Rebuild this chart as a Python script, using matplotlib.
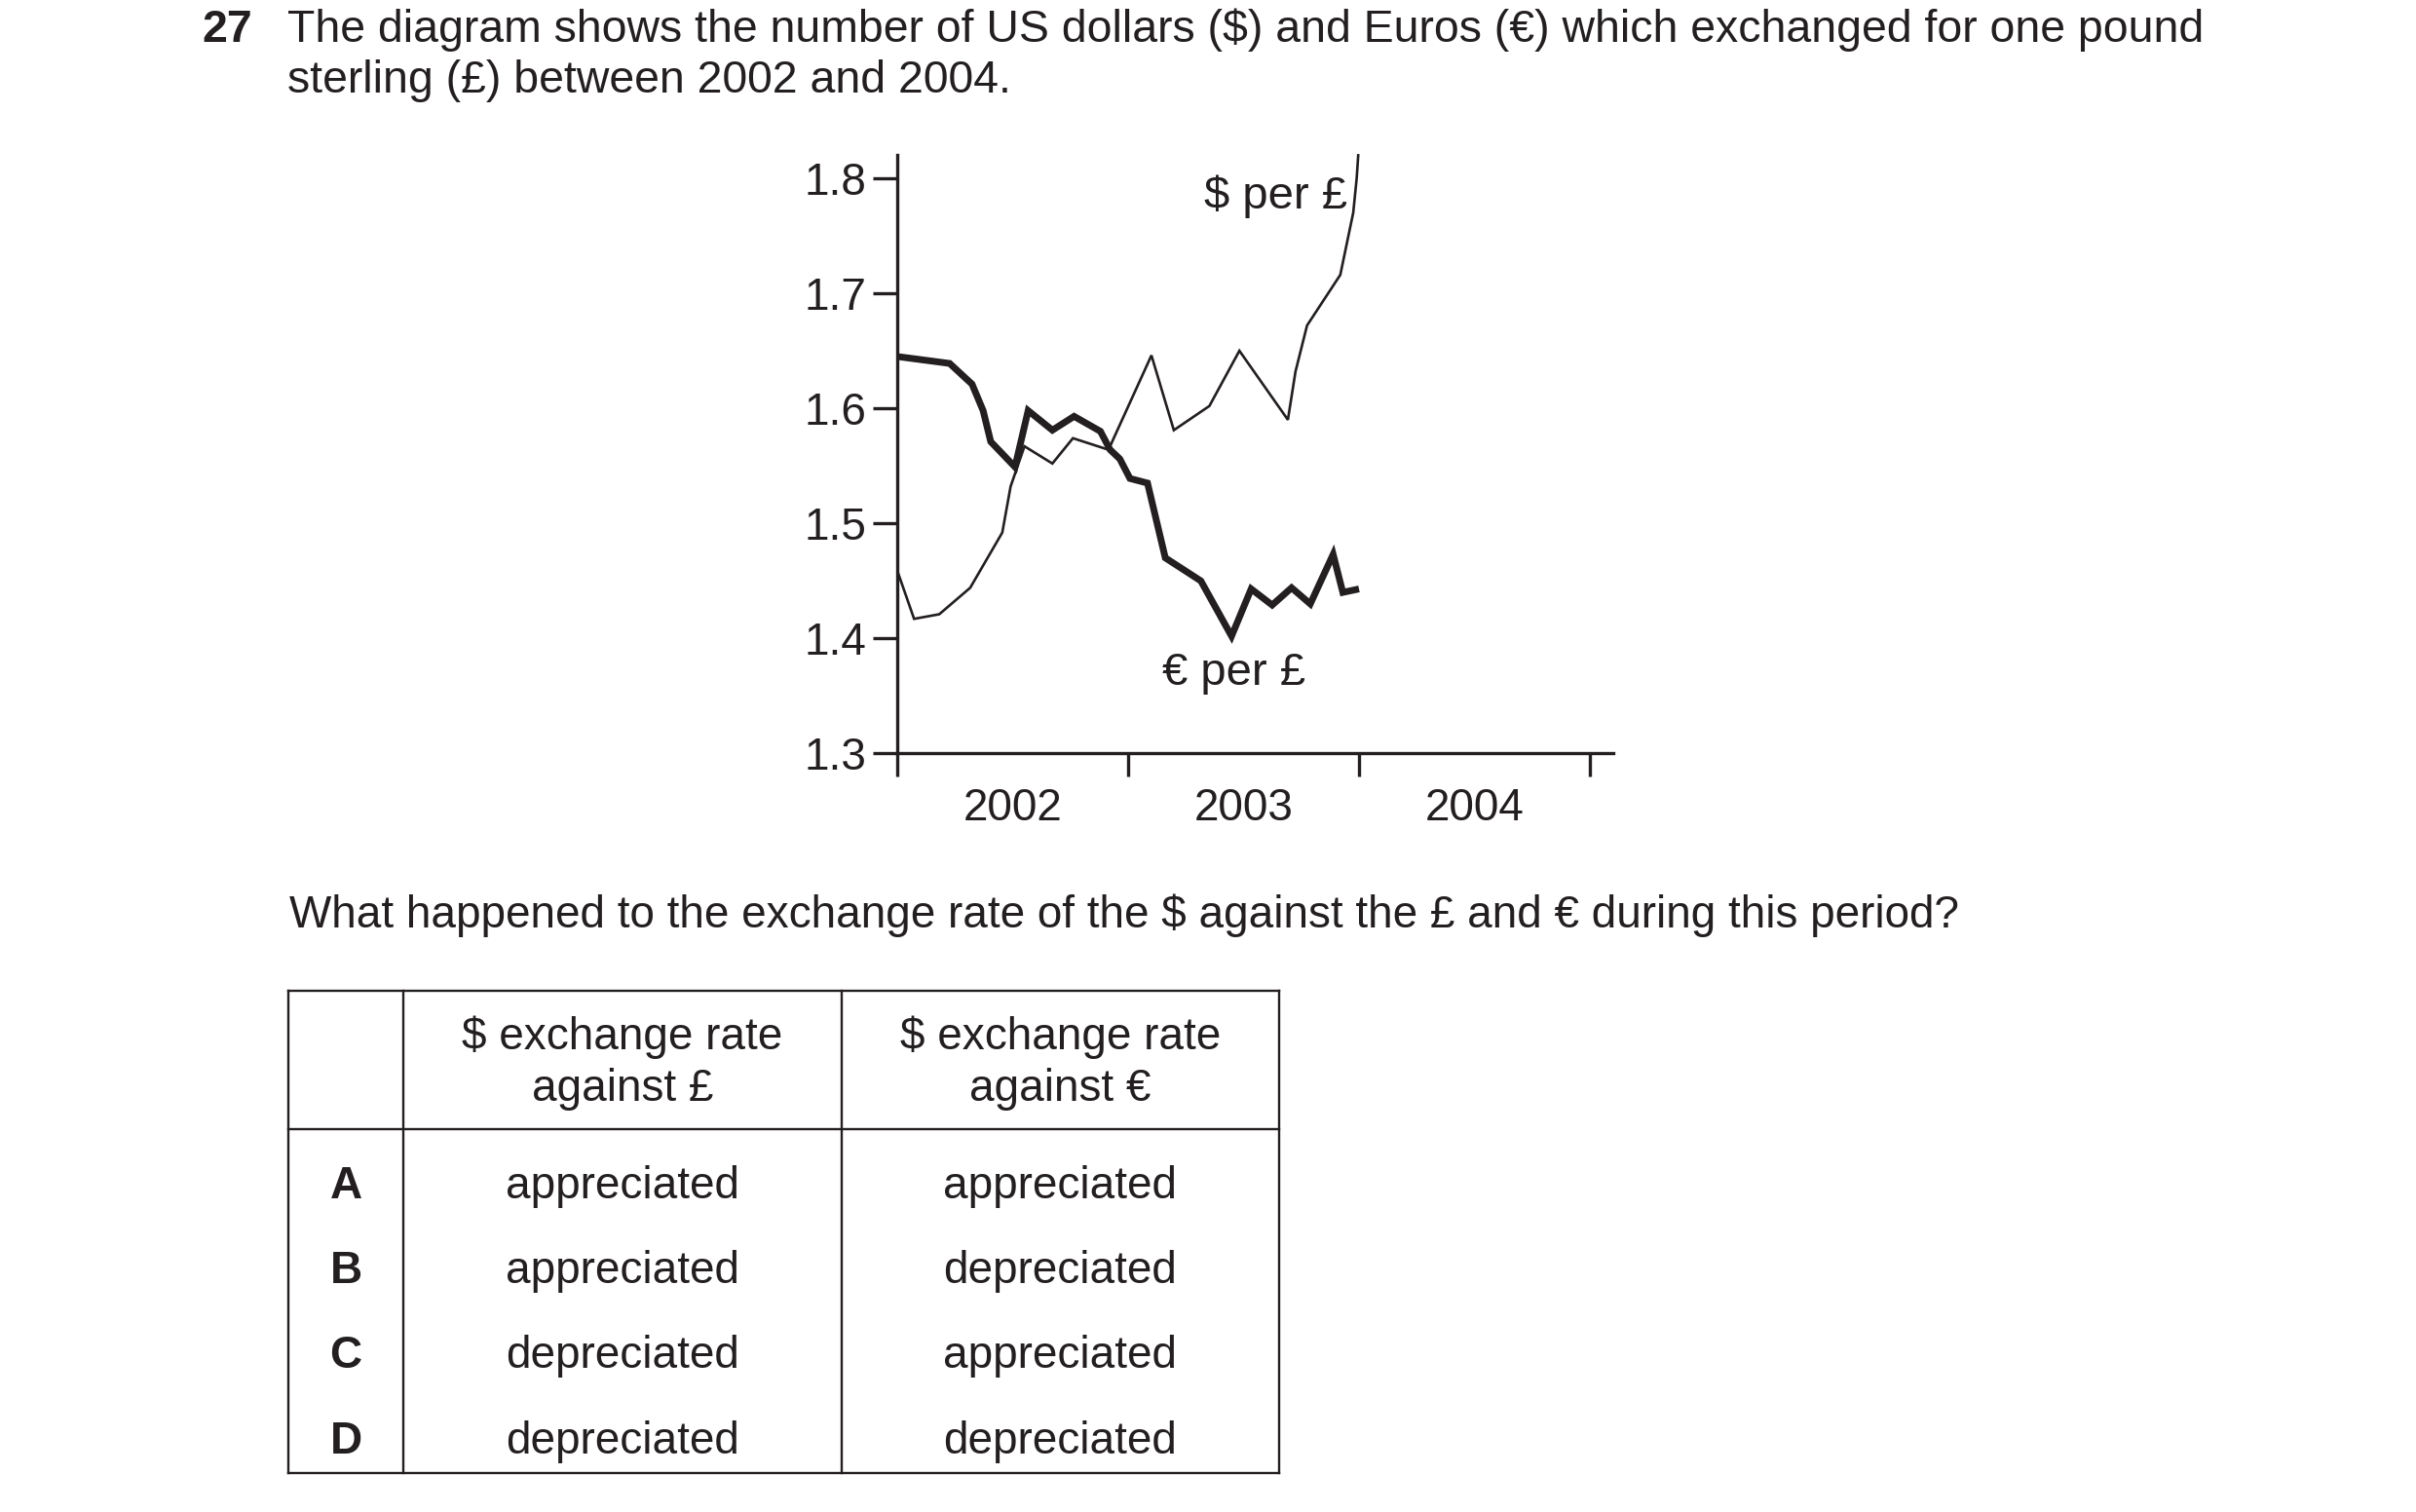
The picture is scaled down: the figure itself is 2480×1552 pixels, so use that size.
import matplotlib
matplotlib.use("Agg")
import matplotlib.pyplot as plt
from matplotlib.lines import Line2D

plt.rcParams['font.family'] = ['Liberation Sans', 'DejaVu Sans']
INK = '#231f20'

# ---- data ----
usd_t = [2002.0, 2002.073, 2002.182, 2002.316, 2002.455, 2002.491, 2002.551, 2002.672,
         2002.761, 2002.915, 2003.101, 2003.198, 2003.352, 2003.482, 2003.692, 2003.725,
         2003.775, 2003.919, 2003.975, 2003.990, 2003.997]
usd_v = [1.459, 1.417, 1.421, 1.444, 1.492, 1.532, 1.567, 1.552,
         1.574, 1.564, 1.646, 1.581, 1.602, 1.650, 1.590, 1.632,
         1.672, 1.716, 1.770, 1.800, 1.821]

eur_t = [2002.0, 2002.227, 2002.324, 2002.372, 2002.405, 2002.510, 2002.567, 2002.672,
         2002.766, 2002.880, 2002.922, 2002.964, 2003.008, 2003.084, 2003.161, 2003.315,
         2003.448, 2003.533, 2003.624, 2003.708, 2003.789, 2003.888, 2003.930, 2004.0]
eur_v = [1.645, 1.639, 1.621, 1.598, 1.571, 1.549, 1.598, 1.581,
         1.593, 1.580, 1.564, 1.556, 1.539, 1.535, 1.470, 1.450,
         1.402, 1.443, 1.429, 1.444, 1.430, 1.473, 1.440, 1.443]

y_ticks = [1.3, 1.4, 1.5, 1.6, 1.7, 1.8]
year_ticks = [2002, 2003, 2004, 2005]
year_labels = ['2002', '2003', '2004']

q_number = '27'
q_lines = ['The diagram shows the number of US dollars ($) and Euros (€) which exchanged for one pound',
           'sterling (£) between 2002 and 2004.']
question = 'What happened to the exchange rate of the $ against the £ and € during this period?'
col_headers = [['$ exchange rate', 'against £'], ['$ exchange rate', 'against €']]
row_letters = ['A', 'B', 'C', 'D']
col1_answers = ['appreciated', 'appreciated', 'depreciated', 'depreciated']
col2_answers = ['appreciated', 'depreciated', 'appreciated', 'depreciated']

# ---- figure ----
W, H = 2480, 1552
fig = plt.figure(figsize=(W / 100, H / 100), dpi=100)
fig.patch.set_facecolor('white')

ov = fig.add_axes([0, 0, 1, 1], zorder=0)
ov.set_xlim(0, W)
ov.set_ylim(H, 0)
ov.axis('off')

FS = 33
FSH = 33.4

# header
ov.text(207, 43, q_number, fontsize=FSH, fontweight='bold', color=INK, va='baseline', ha='left')
ov.text(295, 43, q_lines[0], fontsize=FSH, color=INK, va='baseline', ha='left')
ov.text(295, 95, q_lines[1], fontsize=FSH, color=INK, va='baseline', ha='left')

# question
ov.text(297, 952, question, fontsize=FS, color=INK, va='baseline', ha='left')

# table
xl, x1, x2, xr = 296, 414, 864, 1313
yt, yh, yb = 1017, 1159, 1512
lw_t = 1.7
for yy in (yt, yh, yb):
    ov.add_line(Line2D([xl, xr], [yy, yy], color=INK, lw=lw_t))
for xx in (xl, x1, x2, xr):
    ov.add_line(Line2D([xx, xx], [yt, yb], color=INK, lw=lw_t))
cc1, cc2, ccl = (x1 + x2) / 2, (x2 + xr) / 2, (xl + x1) / 2
for cx, hdr in zip((cc1, cc2), col_headers):
    ov.text(cx, 1077, hdr[0], fontsize=FS, color=INK, va='baseline', ha='center')
    ov.text(cx, 1130, hdr[1], fontsize=FS, color=INK, va='baseline', ha='center')
row_base = [1230, 1317, 1404, 1492]
for yb_, L, a1, a2 in zip(row_base, row_letters, col1_answers, col2_answers):
    ov.text(ccl, yb_, L, fontsize=FS, fontweight='bold', color=INK, va='baseline', ha='center')
    ov.text(cc1, yb_, a1, fontsize=FS, color=INK, va='baseline', ha='center')
    ov.text(cc2, yb_, a2, fontsize=FS, color=INK, va='baseline', ha='center')

# chart
yr_px = 237.0
left_px, right_px = 921, 921 + 3.1 * yr_px
bot_px, top_px = 773.4, 773.4 - 0.52 * 1181
ax = fig.add_axes([left_px / W, 1 - bot_px / H, (right_px - left_px) / W, (bot_px - top_px) / H], zorder=1)
ax.set_facecolor('none')
ax.set_xlim(2002, 2005.1)
ax.set_ylim(1.3, 1.82)

ax.plot(usd_t, usd_v, color=INK, lw=1.9, solid_joinstyle='miter', solid_capstyle='butt', clip_on=False)
ax.plot(eur_t, eur_v, color=INK, lw=5.0, solid_joinstyle='miter', solid_capstyle='butt', clip_on=False)

for s in ('top', 'right'):
    ax.spines[s].set_visible(False)
for s in ('left', 'bottom'):
    ax.spines[s].set_linewidth(2.4)
    ax.spines[s].set_color(INK)

ax.set_yticks(y_ticks)
ax.set_yticklabels([f'{v:.1f}' for v in y_ticks])
ax.tick_params(axis='y', direction='out', length=18, width=2.4, color=INK,
               labelsize=FS, labelcolor=INK, pad=5)
ax.set_xticks(year_ticks)
ax.set_xticklabels([''] * len(year_ticks))
ax.set_xticks([y + 0.5 for y in year_ticks[:-1]], minor=True)
ax.set_xticklabels(year_labels, minor=True)
ax.tick_params(axis='x', which='major', direction='out', length=17, width=2.4, color=INK)
ax.tick_params(axis='x', which='minor', length=0, labelsize=FS, labelcolor=INK, pad=25)

ax.text(2003.64, 1.784, '$ per £', fontsize=34, color=INK, ha='center', va='center')
ax.text(2003.457, 1.370, '€ per £', fontsize=34, color=INK, ha='center', va='center')

fig.savefig('out.png', dpi=100, facecolor='white')
